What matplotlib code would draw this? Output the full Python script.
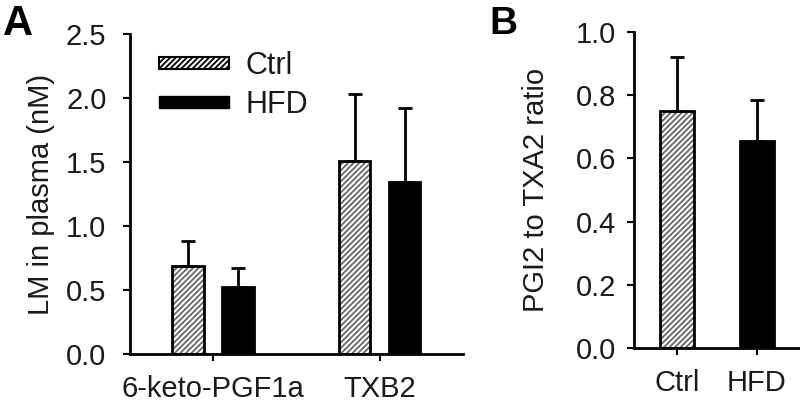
import numpy as np
import matplotlib
matplotlib.use('Agg')
from matplotlib import pyplot as plt
from matplotlib.patches import Patch

plt.rcParams['font.family'] = ['Liberation Sans', 'DejaVu Sans']
plt.rcParams['hatch.linewidth'] = 1.3

# panel A data
lm_names = ['6-keto-PGF1a', 'TXB2']
ctrl_lm = [0.69, 1.51]
ctrl_lm_err = [0.19, 0.52]
hfd_lm = [0.52, 1.34]
hfd_lm_err = [0.15, 0.58]

# panel B data
ratio_groups = ['Ctrl', 'HFD']
ratio_vals = [0.75, 0.655]
ratio_err = [0.17, 0.13]

txt = '#1a1a1a'
fs = 21

fig = plt.figure(figsize=(8, 4.03), dpi=100)
axA = fig.add_axes([0.1625, 0.1216, 0.416, 0.794])
axB = fig.add_axes([0.7925, 0.1365, 0.2075, 0.784])


def hatched_bar(ax, x, h, w):
    # grey hatch first, then black outline on top
    ax.bar(x, h, w, facecolor='white', edgecolor='#666666', hatch='//////', linewidth=0)
    ax.bar(x, h, w, fill=False, edgecolor='black', linewidth=2)


def style(ax):
    for s in ['top', 'right']:
        ax.spines[s].set_visible(False)
    ax.spines['left'].set_linewidth(2)
    ax.spines['bottom'].set_linewidth(2)
    ax.tick_params(axis='both', labelsize=fs, width=1.5, length=5, colors='black', labelcolor=txt)


# ---- panel A ----
x = np.arange(len(lm_names))
off, w = 0.15, 0.19
hatched_bar(axA, x - off, ctrl_lm, w)
axA.bar(x + off, hfd_lm, w, color='black', edgecolor='black', linewidth=2)
axA.errorbar(x - off, ctrl_lm, yerr=[np.zeros(2), ctrl_lm_err], fmt='none',
             ecolor='black', elinewidth=2, capsize=5, capthick=2)
axA.errorbar(x + off, hfd_lm, yerr=[np.zeros(2), hfd_lm_err], fmt='none',
             ecolor='black', elinewidth=2, capsize=5, capthick=2)
axA.set_xlim(-0.5, 1.5)
axA.set_ylim(0, 2.5)
axA.set_yticks([0, 0.5, 1.0, 1.5, 2.0, 2.5])
axA.set_yticklabels(['0.0', '0.5', '1.0', '1.5', '2.0', '2.5'])
axA.set_xticks(x)
axA.set_xticklabels(lm_names)
style(axA)
axA.tick_params(axis='y', pad=12)
axA.tick_params(axis='x', pad=10)
axA.set_ylabel('LM in plasma (nM)', fontsize=fs, color=txt)
axA.yaxis.set_label_coords(-0.225, 0.5)

handles = [Patch(facecolor='white', edgecolor='black', hatch='//////', linewidth=1.5),
           Patch(facecolor='black', edgecolor='black')]
axA.legend(handles, ['Ctrl', 'HFD'], loc='upper left', bbox_to_anchor=(0.04, 0.995),
           frameon=False, fontsize=22, handlelength=2.3, handleheight=0.25,
           handletextpad=0.55, labelspacing=0.3, borderpad=0, labelcolor=txt)

# ---- panel B ----
xb = np.arange(len(ratio_groups))
hatched_bar(axB, xb[0], ratio_vals[0], 0.42)
axB.bar(xb[1], ratio_vals[1], 0.42, color='black', edgecolor='black', linewidth=2)
axB.errorbar(xb, ratio_vals, yerr=[np.zeros(2), ratio_err], fmt='none',
             ecolor='black', elinewidth=2, capsize=5, capthick=2)
axB.set_xlim(-0.54, 1.54)
axB.set_ylim(0, 1.0)
axB.set_yticks([0, 0.2, 0.4, 0.6, 0.8, 1.0])
axB.set_yticklabels(['0.0', '0.2', '0.4', '0.6', '0.8', '1.0'])
axB.set_xticks(xb)
axB.set_xticklabels(ratio_groups)
style(axB)
axB.tick_params(axis='y', pad=8)
axB.tick_params(axis='x', pad=10)
axB.set_ylabel('PGI2 to TXA2 ratio', fontsize=fs, color=txt)
axB.yaxis.set_label_coords(-0.506, 0.5)

fig.text(0.004, 0.99, 'A', fontsize=30, fontweight='bold', va='top', ha='left')
fig.text(0.612, 0.985, 'B', fontsize=28, fontweight='bold', va='top', ha='left')

fig.savefig('out.png', dpi=100)
